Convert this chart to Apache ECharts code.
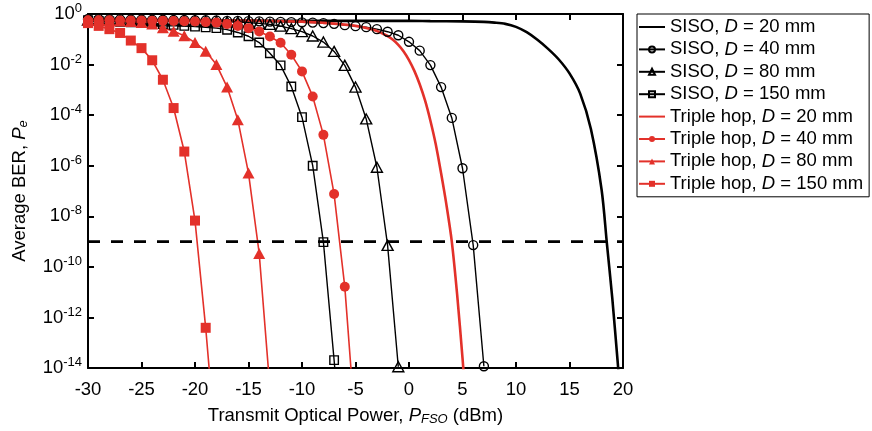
<!DOCTYPE html>
<html>
<head>
<meta charset="utf-8">
<script src="https://cdn.jsdelivr.net/npm/echarts@6/dist/echarts.min.js"></script>
<style>
  html, body { margin: 0; padding: 0; background: #fff; }
  #chart { width: 872px; height: 431px; }
</style>
</head>
<body>
<div id="chart"></div>
<script>
// Transmit power grids (dBm) and BER values stored as log10(BER).
const siso20X   = [-30, -20, -10, 0, 2, 5, 7, 8, 9, 10, 11, 12, 13, 14, 15, 16, 17, 18, 18.5, 19, 19.5, 20];
const siso20Exp = [-0.26, -0.26, -0.27, -0.27, -0.28, -0.29, -0.31, -0.34, -0.39, -0.51, -0.72, -1.02, -1.38, -1.80, -2.35, -3.15, -4.55, -6.95, -9.10, -11.25, -13.75, -16.3];

const siso40X   = [-30, -29, -28, -27, -26, -25, -24, -23, -22, -21, -20, -19, -18, -17, -16, -15, -14, -13, -12, -11, -10, -9, -8, -7, -6, -5, -4, -3, -2, -1, 0, 1, 2, 3, 4, 5, 6, 7];
const siso40Exp = [-0.20, -0.20, -0.21, -0.21, -0.22, -0.22, -0.23, -0.23, -0.24, -0.24, -0.25, -0.25, -0.26, -0.27, -0.27, -0.28, -0.29, -0.30, -0.31, -0.32, -0.33, -0.34, -0.36, -0.39, -0.44, -0.48, -0.52, -0.60, -0.70, -0.84, -1.10, -1.45, -2.02, -2.89, -4.11, -6.10, -9.14, -13.93];

const siso80X   = [-30, -29, -28, -27, -26, -25, -24, -23, -22, -21, -20, -19, -18, -17, -16, -15, -14, -13, -12, -11, -10, -9, -8, -7, -6, -5, -4, -3, -2, -1];
const siso80Exp = [-0.24, -0.24, -0.25, -0.25, -0.25, -0.26, -0.26, -0.27, -0.27, -0.28, -0.28, -0.29, -0.30, -0.31, -0.32, -0.34, -0.37, -0.41, -0.48, -0.58, -0.70, -0.87, -1.11, -1.48, -2.03, -2.89, -4.15, -6.06, -9.15, -13.95];

const siso150X   = [-30, -29, -28, -27, -26, -25, -24, -23, -22, -21, -20, -19, -18, -17, -16, -15, -14, -13, -12, -11, -10, -9, -8, -7, -6];
const siso150Exp = [-0.25, -0.27, -0.29, -0.31, -0.33, -0.35, -0.37, -0.40, -0.43, -0.47, -0.50, -0.53, -0.56, -0.62, -0.73, -0.88, -1.13, -1.55, -2.03, -2.87, -4.08, -6.00, -9.02, -13.69, -18.7];

const hop20X   = [-30, -20, -15, -10, -8, -6, -5, -4, -3, -2, -1.5, -1, -0.5, 0, 0.5, 1, 1.5, 2, 2.5, 3, 3.5, 4, 4.5, 5, 5.5];
const hop20Exp = [-0.22, -0.24, -0.26, -0.30, -0.35, -0.42, -0.47, -0.55, -0.67, -0.87, -1.02, -1.22, -1.48, -1.82, -2.25, -2.78, -3.42, -4.22, -5.15, -6.30, -7.55, -9.00, -11.10, -13.6, -16.4];

const hop40X   = [-30, -29, -28, -27, -26, -25, -24, -23, -22, -21, -20, -19, -18, -17, -16, -15, -14, -13, -12, -11, -10, -9, -8, -7, -6, -5];
const hop40Exp = [-0.25, -0.25, -0.25, -0.26, -0.26, -0.26, -0.27, -0.27, -0.28, -0.29, -0.30, -0.32, -0.34, -0.40, -0.47, -0.56, -0.69, -0.89, -1.14, -1.61, -2.27, -3.26, -4.78, -7.12, -10.79, -16.4];

const hop80X   = [-30, -29, -28, -27, -26, -25, -24, -23, -22, -21, -20, -19, -18, -17, -16, -15, -14, -13];
const hop80Exp = [-0.24, -0.25, -0.26, -0.28, -0.30, -0.34, -0.40, -0.54, -0.68, -0.86, -1.13, -1.47, -2.00, -2.89, -4.18, -6.29, -9.47, -14.8];

const hop150X   = [-30, -29, -28, -27, -26, -25, -24, -23, -22, -21, -20, -19, -18];
const hop150Exp = [-0.36, -0.47, -0.60, -0.75, -1.05, -1.35, -1.83, -2.60, -3.72, -5.44, -8.17, -12.41, -17.4];

// Target BER reference level
const targetX   = [-30, 20];
const targetBer = [1e-9, 1e-9];

const xTicks = { min: -30, max: 20, step: 5 };
const yTicks = { min: 1e-14, max: 1, stepDecades: 2 };

const legendNames = [
  'SISO, D = 20 mm', 'SISO, D = 40 mm', 'SISO, D = 80 mm', 'SISO, D = 150 mm',
  'Triple hop, D = 20 mm', 'Triple hop, D = 40 mm', 'Triple hop, D = 80 mm', 'Triple hop, D = 150 mm'
];
// Curves drawn without markers: their legend entries show only the line.
const plainLineNames = [legendNames[0], legendNames[4]];

const FONT = '"Liberation Sans", Arial, Helvetica, sans-serif';
const RED = '#e3312a';
const BLACK = '#000000';
const FS = 18.5;

function pairs(xs, exps) {
  return xs.map((x, i) => [x, Math.pow(10, exps[i])]);
}

function openSeries(name, xs, exps, symbol, size) {
  return {
    name, type: 'line', data: pairs(xs, exps),
    symbol, symbolSize: size, showAllSymbol: true,
    lineStyle: { color: BLACK, width: 1.4 },
    itemStyle: { color: 'rgba(0,0,0,0)', borderColor: BLACK, borderWidth: 1.4 }
  };
}

function filledSeries(name, xs, exps, symbol, size) {
  return {
    name, type: 'line', data: pairs(xs, exps),
    symbol, symbolSize: size, showAllSymbol: true,
    lineStyle: { color: RED, width: 1.6 },
    itemStyle: { color: RED, borderWidth: 0 }
  };
}

const chart = echarts.init(document.getElementById('chart'), null, { renderer: 'canvas' });

const axisLineStyle = { color: BLACK, width: 2 };
const tickStyle = { inside: true, length: 6, lineStyle: { color: BLACK, width: 2 } };

chart.setOption({
  animation: false,
  backgroundColor: '#fff',
  textStyle: { fontFamily: FONT },
  grid: { left: 88, right: 249, top: 14, bottom: 63 },
  legend: {
    data: legendNames.map(n => plainLineNames.includes(n)
      ? { name: n, itemStyle: { opacity: 0 } }
      : { name: n }),
    orient: 'vertical',
    left: 637, top: 14,
    padding: [3, 6, 3, 1],
    itemWidth: 26, itemHeight: 7.5, itemGap: 2.4,
    borderColor: BLACK, borderWidth: 1,
    backgroundColor: '#fff',
    formatter: n => n.replace('D', '{i|D}'),
    textStyle: {
      fontFamily: FONT, fontSize: FS, color: BLACK, lineHeight: 20,
      rich: { i: { fontStyle: 'italic', fontSize: FS, lineHeight: 20, fontFamily: FONT, color: BLACK } }
    }
  },
  xAxis: [
    {
      type: 'value', position: 'bottom',
      min: xTicks.min, max: xTicks.max, interval: xTicks.step,
      axisLine: { onZero: false, lineStyle: axisLineStyle },
      axisTick: tickStyle,
      splitLine: { show: false },
      axisLabel: { fontSize: FS, color: BLACK, margin: 12, fontFamily: FONT },
      name: 'Transmit Optical Power, {i|P}{sub|FSO} (dBm)',
      nameLocation: 'middle', nameGap: 37,
      nameTextStyle: {
        fontSize: FS, color: BLACK, fontFamily: FONT,
        rich: {
          i: { fontStyle: 'italic', fontSize: FS, color: BLACK, fontFamily: FONT },
          sub: { fontStyle: 'italic', fontSize: 13, color: BLACK, fontFamily: FONT, padding: [8, 0, 0, 0] }
        }
      }
    },
    {
      type: 'value', position: 'top',
      min: xTicks.min, max: xTicks.max, interval: xTicks.step,
      axisLine: { onZero: false, lineStyle: axisLineStyle },
      axisTick: tickStyle,
      splitLine: { show: false },
      axisLabel: { show: false }
    }
  ],
  yAxis: [
    {
      type: 'log', logBase: 10, position: 'left',
      min: yTicks.min, max: yTicks.max, interval: yTicks.stepDecades,
      axisLine: { onZero: false, lineStyle: axisLineStyle },
      axisTick: tickStyle,
      splitLine: { show: false },
      axisLabel: {
        color: BLACK, fontSize: FS, fontFamily: FONT, margin: 6,
        formatter: v => '10{sup|' + Math.round(Math.log10(v)) + '}',
        rich: { sup: { fontSize: 13, color: BLACK, fontFamily: FONT, padding: [0, 0, 11, 0] } }
      },
      name: 'Average BER, {i|P}{sub|e}',
      nameLocation: 'middle', nameGap: 58,
      nameTextStyle: {
        fontSize: FS, color: BLACK, fontFamily: FONT,
        rich: {
          i: { fontStyle: 'italic', fontSize: FS, color: BLACK, fontFamily: FONT },
          sub: { fontStyle: 'italic', fontSize: 13, color: BLACK, fontFamily: FONT, padding: [8, 0, 0, 0] }
        }
      }
    },
    {
      type: 'log', logBase: 10, position: 'right',
      min: yTicks.min, max: yTicks.max, interval: yTicks.stepDecades,
      axisLine: { onZero: false, lineStyle: axisLineStyle },
      axisTick: tickStyle,
      splitLine: { show: false },
      axisLabel: { show: false }
    }
  ],
  series: [
    {
      name: legendNames[0], type: 'line', data: pairs(siso20X, siso20Exp),
      symbol: 'none', smooth: 0.3,
      lineStyle: { color: BLACK, width: 2.6 }, itemStyle: { color: BLACK }
    },
    openSeries(legendNames[1], siso40X, siso40Exp, 'circle', 9),
    openSeries(legendNames[2], siso80X, siso80Exp, 'triangle', [11, 10]),
    openSeries(legendNames[3], siso150X, siso150Exp, 'rect', 8.5),
    {
      name: legendNames[4], type: 'line', data: pairs(hop20X, hop20Exp),
      symbol: 'none', smooth: 0.3,
      lineStyle: { color: RED, width: 2.6 }, itemStyle: { color: RED }
    },
    filledSeries(legendNames[5], hop40X, hop40Exp, 'circle', 10),
    filledSeries(legendNames[6], hop80X, hop80Exp, 'triangle', [12, 11]),
    filledSeries(legendNames[7], hop150X, hop150Exp, 'rect', 10),
    {
      name: 'target', type: 'line',
      data: targetX.map((x, i) => [x, targetBer[i]]),
      symbol: 'none', silent: true,
      lineStyle: { color: BLACK, width: 2.8, type: [12, 11] }
    }
  ]
});
</script>
</body>
</html>
